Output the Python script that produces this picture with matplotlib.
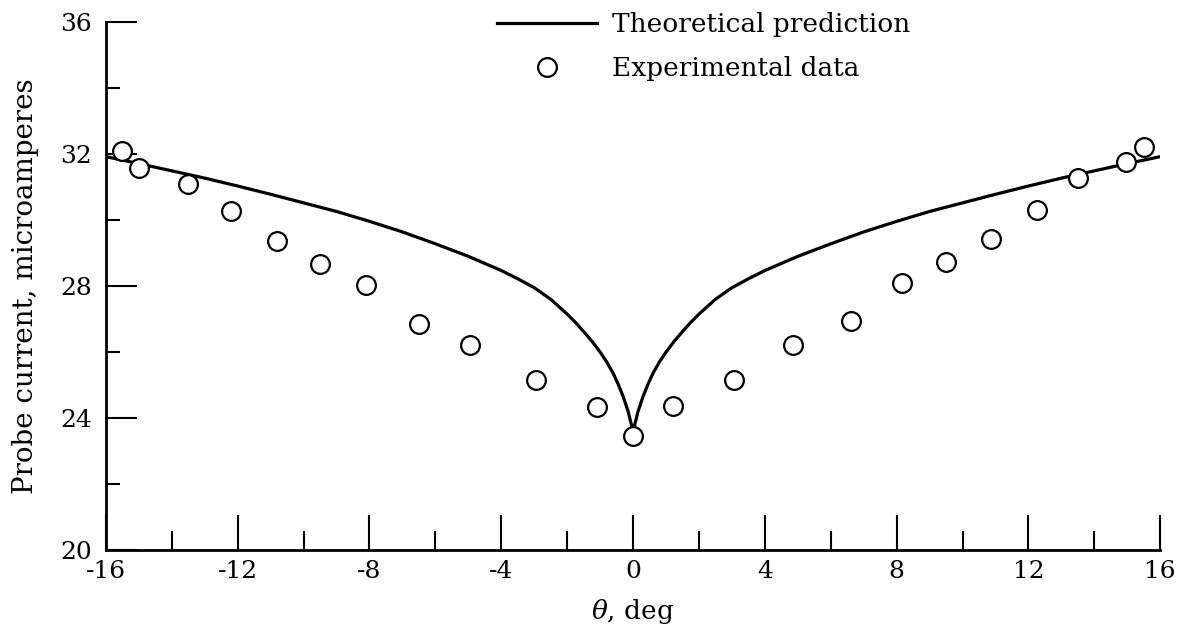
#!/usr/bin/env python3
"""
Probe current versus angle: theory curve and measured points
"""
import matplotlib
matplotlib.use('Agg')
import matplotlib.pyplot as plt
from matplotlib.ticker import MultipleLocator

# theoretical prediction, read at positive angles (curve is symmetric)
theory_half_theta = [0, 0.05, 0.15, 0.3, 0.45, 0.6, 0.8, 1.0, 1.25, 1.5,
                     1.75, 2.0, 2.5, 3.0, 3.5, 4, 5, 6, 7, 8, 9, 10, 11,
                     12, 13, 14, 15, 16]
theory_half_current = [23.45, 23.80, 24.20, 24.65, 25.02, 25.35, 25.70,
                       26.00, 26.33, 26.62, 26.90, 27.15, 27.60, 27.95,
                       28.22, 28.47, 28.90, 29.28, 29.64, 29.96, 30.26,
                       30.52, 30.78, 31.03, 31.27, 31.49, 31.71, 31.92]

# experimental data
exp_theta = [-15.5, -15.0, -13.5, -12.2, -10.8, -9.5, -8.1, -6.5, -4.95,
             -2.95, -1.1, 0.0, 1.2, 3.05, 4.85, 6.6, 8.15, 9.5, 10.85,
             12.25, 13.5, 14.95, 15.5]
exp_current = [32.08, 31.58, 31.09, 30.27, 29.36, 28.67, 28.03, 26.85,
               26.21, 25.15, 24.33, 23.45, 24.36, 25.15, 26.21, 26.94,
               28.09, 28.73, 29.42, 30.30, 31.27, 31.76, 32.21]

x_ticks = [-16, -12, -8, -4, 0, 4, 8, 12, 16]
y_ticks = [20, 24, 28, 32, 36]

# mirror the positive half to get the full curve
theory_theta = [-t for t in theory_half_theta[:0:-1]] + theory_half_theta
theory_current = theory_half_current[:0:-1] + theory_half_current

plt.rcParams['font.family'] = ['DejaVu Serif']
plt.rcParams['mathtext.fontset'] = 'dejavuserif'

fig = plt.figure(figsize=(11.9, 6.28), dpi=100)
ax = fig.add_axes([0.089, 0.124, 0.886, 0.841])

ax.plot(theory_theta, theory_current, color='black', linewidth=2.3,
        solid_joinstyle='round', label='Theoretical prediction', zorder=2)
ax.plot(exp_theta, exp_current, linestyle='none', marker='o',
        markersize=13.5, markerfacecolor='white', markeredgecolor='black',
        markeredgewidth=1.6, label='Experimental data', zorder=3)

ax.set_xlim(-16, 16)
ax.set_ylim(20, 36)
ax.set_xticks(x_ticks)
ax.set_yticks(y_ticks)
ax.set_xticklabels([str(t) for t in x_ticks])
ax.xaxis.set_minor_locator(MultipleLocator(2))
ax.yaxis.set_minor_locator(MultipleLocator(2))

ax.spines['top'].set_visible(False)
ax.spines['right'].set_visible(False)
for side in ('left', 'bottom'):
    ax.spines[side].set_linewidth(2.0)

ax.tick_params(axis='x', which='major', direction='in', length=25,
               width=1.5, labelsize=18, pad=7)
ax.tick_params(axis='x', which='minor', direction='in', length=14,
               width=1.5)
ax.tick_params(axis='y', which='major', direction='in', length=22,
               width=1.5, labelsize=18, pad=10)
ax.tick_params(axis='y', which='minor', direction='in', length=10,
               width=1.5)

ax.set_xlabel(r'$\theta$, deg', fontsize=19, labelpad=10)
ax.set_ylabel('Probe current, microamperes', fontsize=20, labelpad=15)

ax.legend(loc='upper left', bbox_to_anchor=(0.371, 1.019), frameon=False,
          fontsize=19, borderpad=0, handlelength=3.8, handletextpad=0.57,
          labelspacing=0.73, borderaxespad=0)

fig.savefig('out.png', dpi=100)
